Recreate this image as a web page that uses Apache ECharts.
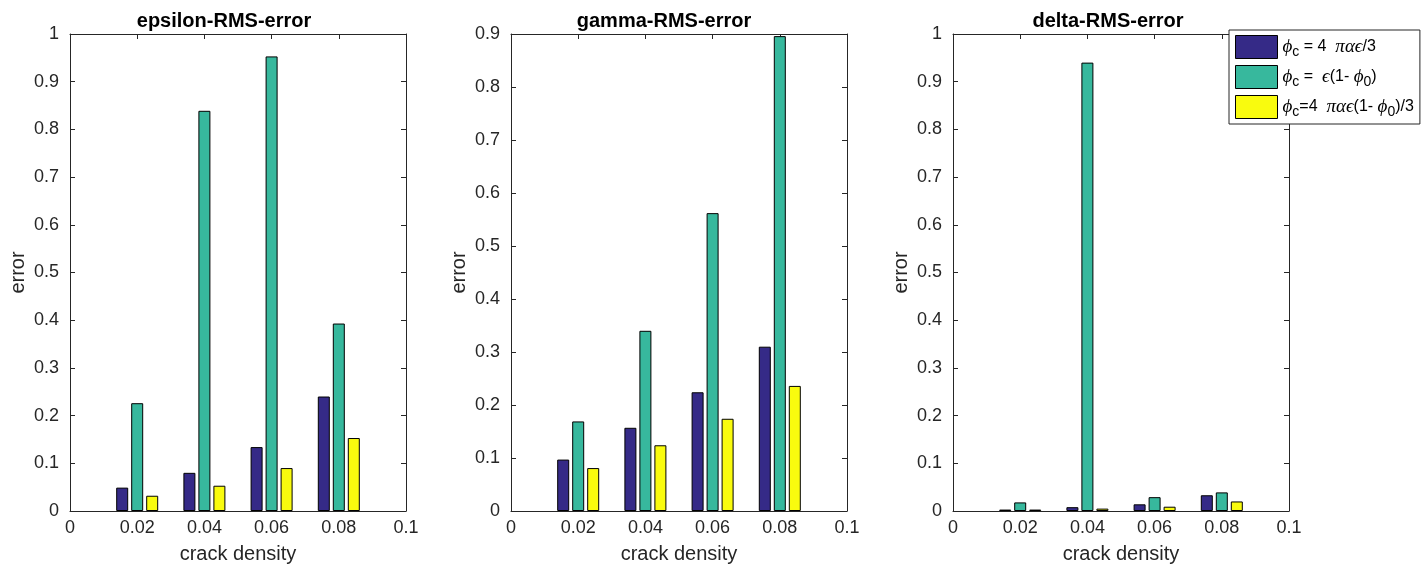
<!DOCTYPE html>
<html>
<head>
<meta charset="utf-8">
<title>RMS error vs crack density</title>
<script src="https://cdn.jsdelivr.net/npm/echarts@6/dist/echarts.min.js"></script>
<style>
  html, body { margin: 0; padding: 0; background: #ffffff; }
  #chart { width: 1422px; height: 571px; }
</style>
</head>
<body>
<div id="chart"></div>
<script>
// crack densities at which each model was evaluated
const crackDensity = [0.02, 0.04, 0.06, 0.08];

// epsilon RMS error for the three crack-porosity models
const epsilonModelA = [0.049, 0.080, 0.134, 0.240];
const epsilonModelB = [0.226, 0.839, 0.953, 0.393];
const epsilonModelC = [0.032, 0.053, 0.090, 0.153];

// gamma RMS error
const gammaModelA = [0.097, 0.157, 0.224, 0.310];
const gammaModelB = [0.169, 0.340, 0.562, 0.896];
const gammaModelC = [0.081, 0.124, 0.174, 0.236];

// delta RMS error
const deltaModelA = [0.003, 0.008, 0.014, 0.033];
const deltaModelB = [0.018, 0.940, 0.029, 0.039];
const deltaModelC = [0.003, 0.005, 0.009, 0.020];

// panel titles and y-axis upper limits
const panelTitles = ['epsilon-RMS-error', 'gamma-RMS-error', 'delta-RMS-error'];
const panelYMax = [1, 0.9, 1];

// x-axis range and tick step
const xMin = 0, xMax = 0.1, xStep = 0.02;
const yStep = 0.1;

// model names (legend entries)
const modelNames = ['ϕc = 4 παϵ/3', 'ϕc = ϵ(1- ϕ0)', 'ϕc=4 παϵ(1- ϕ0)/3'];
const modelLabels = {
  'ϕc = 4 παϵ/3': '{g|ϕ}{s|c}{t| = 4  }{g|παϵ}{t|/3}',
  'ϕc = ϵ(1- ϕ0)': '{g|ϕ}{s|c}{t| =  }{g|ϵ}{t|(1- }{g|ϕ}{s|0}{t|)}',
  'ϕc=4 παϵ(1- ϕ0)/3': '{g|ϕ}{s|c}{t|=4  }{g|παϵ}{t|(1- }{g|ϕ}{s|0}{t|)/3}'
};
const modelColors = ['#352A87', '#37B89D', '#F9FB0E'];

const panelData = [
  [epsilonModelA, epsilonModelB, epsilonModelC],
  [gammaModelA, gammaModelB, gammaModelC],
  [deltaModelA, deltaModelB, deltaModelC]
];

const axisColor = '#262626';
const fontFamily = '"Liberation Sans", Arial, Helvetica, sans-serif';

const gridLefts = [70, 511, 953];
const gridWidth = 336;
const gridTop = 34;
const gridHeight = 477;
const titleCenters = [219, 659, 1103];

const grids = [], xAxes = [], yAxes = [], series = [], titles = [];

panelTitles.forEach((t, p) => {
  grids.push({ left: gridLefts[p], top: gridTop, width: gridWidth, height: gridHeight, containLabel: false });

  titles.push({
    text: t,
    left: titleCenters[p],
    top: 6,
    textAlign: 'center',
    textStyle: { fontFamily, fontSize: 20, fontWeight: 'bold', color: '#000' }
  });

  const xBase = {
    type: 'value', gridIndex: p, min: xMin, max: xMax, interval: xStep,
    axisLine: { show: true, onZero: false, lineStyle: { color: axisColor, width: 1 } },
    axisTick: { show: true, inside: true, length: 5, lineStyle: { color: axisColor } },
    splitLine: { show: false }
  };
  xAxes.push(Object.assign({}, xBase, {
    position: 'bottom',
    name: 'crack density', nameLocation: 'middle', nameGap: 33,
    nameTextStyle: { fontFamily, fontSize: 20, color: axisColor },
    axisLabel: { show: true, margin: 8, fontFamily, fontSize: 18, color: axisColor }
  }));
  xAxes.push(Object.assign({}, xBase, { position: 'top', axisLabel: { show: false } }));

  const yBase = {
    type: 'value', gridIndex: p, min: 0, max: panelYMax[p], interval: yStep,
    axisLine: { show: true, onZero: false, lineStyle: { color: axisColor, width: 1 } },
    axisTick: { show: true, inside: true, length: 5, lineStyle: { color: axisColor } },
    splitLine: { show: false }
  };
  yAxes.push(Object.assign({}, yBase, {
    position: 'left',
    name: 'error', nameLocation: 'middle', nameGap: 42,
    nameTextStyle: { fontFamily, fontSize: 20, color: axisColor },
    axisLabel: { show: true, margin: 11, fontFamily, fontSize: 18, color: axisColor }
  }));
  yAxes.push(Object.assign({}, yBase, { position: 'right', axisLabel: { show: false } }));

  panelData[p].forEach((vals, m) => {
    series.push({
      type: 'bar',
      name: modelNames[m],
      xAxisIndex: 2 * p,
      yAxisIndex: 2 * p,
      barWidth: 12,
      barGap: '25%',
      itemStyle: { color: modelColors[m], borderColor: '#000', borderWidth: 1 },
      emphasis: { disabled: true },
      animation: false,
      data: crackDensity.map((x, i) => [x, vals[i]])
    });
  });
});

const chart = echarts.init(document.getElementById('chart'), null, { renderer: 'canvas' });
chart.setOption({
  backgroundColor: '#ffffff',
  animation: false,
  title: titles,
  grid: grids,
  xAxis: xAxes,
  yAxis: yAxes,
  legend: {
    data: modelNames,
    orient: 'vertical',
    left: 1229,
    top: 30,
    padding: [5, 6, 5, 6],
    itemGap: 6,
    itemWidth: 42,
    itemHeight: 23,
    icon: 'rect',
    itemStyle: { borderColor: '#000', borderWidth: 1 },
    backgroundColor: '#ffffff',
    borderColor: axisColor,
    borderWidth: 1,
    selectedMode: false,
    formatter: name => modelLabels[name],
    textStyle: {
      color: '#000',
      rich: {
        g: { fontFamily: '"Liberation Serif", "DejaVu Serif", serif', fontStyle: 'italic', fontSize: 19, lineHeight: 24, verticalAlign: 'middle', color: '#000' },
        t: { fontFamily, fontSize: 16, lineHeight: 24, verticalAlign: 'middle', color: '#000' },
        s: { fontFamily, fontSize: 14, lineHeight: 8, verticalAlign: 'bottom', color: '#000' }
      }
    }
  },
  series
});
</script>
</body>
</html>
